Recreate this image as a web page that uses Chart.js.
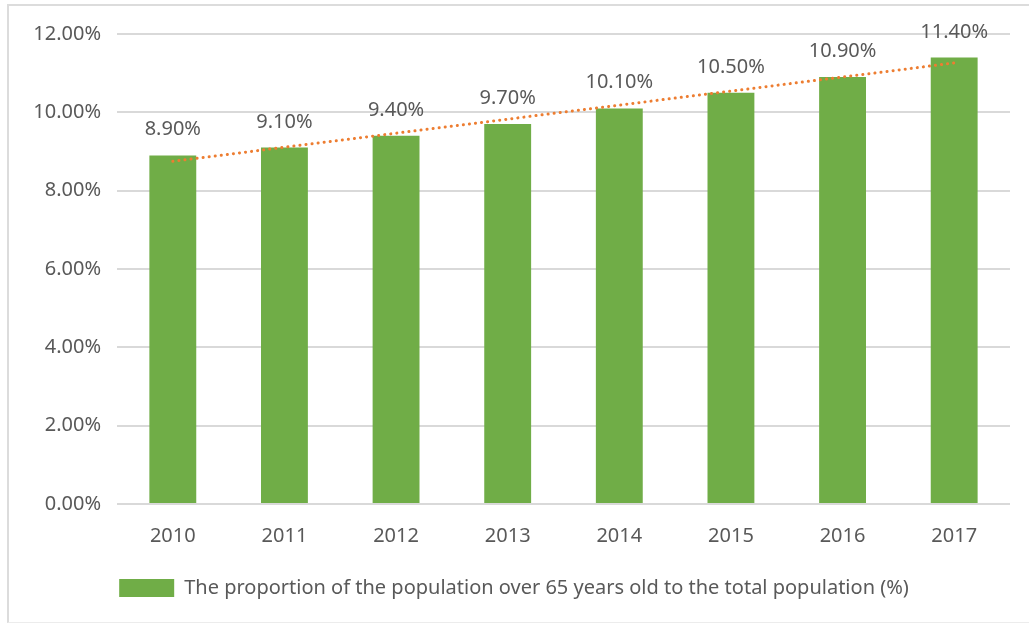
<!DOCTYPE html>
<html>
<head>
<meta charset="utf-8">
<script src="https://cdn.jsdelivr.net/npm/chart.js@4.4.1/dist/chart.umd.min.js"></script>
<style>
  body { margin: 0; background: #fff; }
  #wrap { position: relative; width: 1029px; height: 628px; overflow: hidden; }
  #frame { position: absolute; left: 7px; top: 4px; width: 1100px; height: 616px;
           border-left: 2px solid #dcdcdc; border-top: 2px solid #dcdcdc; border-bottom: 1px solid #ececec; }
  canvas { position: absolute; left: 0; top: 0; }
</style>
</head>
<body>
<div id="wrap">
  <div id="frame"></div>
  <canvas id="chart" width="1029" height="628"></canvas>
</div>
<script>
var years = ["2010", "2011", "2012", "2013", "2014", "2015", "2016", "2017"];
var share = [8.9, 9.1, 9.4, 9.7, 10.1, 10.5, 10.9, 11.4];
// dotted trend line, ends
var trend = [8.75, null, null, null, null, null, null, 11.26];
var yTicks = [0, 2, 4, 6, 8, 10, 12];
var legendText = "The proportion of the population over 65 years old to the total population (%)";

var textColor = "#595959";
var fontFamily = "'Noto Sans', sans-serif";
var fontSize = 20;

var valueLabels = {
  id: "valueLabels",
  afterDatasetsDraw: function (chart) {
    var ctx = chart.ctx;
    var meta = chart.getDatasetMeta(0);
    ctx.save();
    ctx.fillStyle = textColor;
    ctx.font = fontSize + "px " + fontFamily;
    ctx.textAlign = "center";
    ctx.textBaseline = "alphabetic";
    meta.data.forEach(function (bar, i) {
      ctx.fillText(share[i].toFixed(2) + "%", bar.x, bar.y - 20);
    });
    ctx.restore();
  }
};

var chart = new Chart("chart", {
  data: {
    labels: years,
    datasets: [
      {
        type: "bar",
        label: legendText,
        data: share,
        backgroundColor: "#70AD47",
        barPercentage: 0.84,
        categoryPercentage: 0.5,
        order: 2
      },
      {
        type: "line",
        label: "trend",
        data: trend,
        spanGaps: true,
        borderColor: "#ED7D31",
        borderWidth: 3,
        borderDash: [0.1, 6],
        borderCapStyle: "round",
        pointRadius: 0,
        fill: false,
        order: 1
      }
    ]
  },
  options: {
    responsive: false,
    animation: false,
    layout: { padding: { top: 34, right: 19, bottom: 20, left: 18 } },
    plugins: {
      tooltip: { enabled: false },
      legend: {
        position: "bottom",
        labels: {
          boxWidth: 55,
          boxHeight: 18,
          padding: 18,
          color: textColor,
          font: { family: fontFamily, size: fontSize },
          filter: function (item) { return item.datasetIndex === 0; }
        }
      }
    },
    scales: {
      x: {
        grid: { display: false },
        border: { display: false },
        ticks: { color: textColor, font: { family: fontFamily, size: fontSize }, padding: 12 }
      },
      y: {
        min: 0,
        max: 12,
        afterBuildTicks: function (scale) {
          scale.ticks = yTicks.map(function (v) { return { value: v }; });
        },
        afterFit: function (scale) { scale.width = 99; },
        grid: { color: "#d9d9d9", lineWidth: 2, drawTicks: false },
        border: { display: false },
        ticks: {
          color: textColor,
          font: { family: fontFamily, size: fontSize },
          padding: 16,
          callback: function (v) { return v.toFixed(2) + "%"; }
        }
      }
    }
  },
  plugins: [valueLabels]
});
</script>
</body>
</html>
